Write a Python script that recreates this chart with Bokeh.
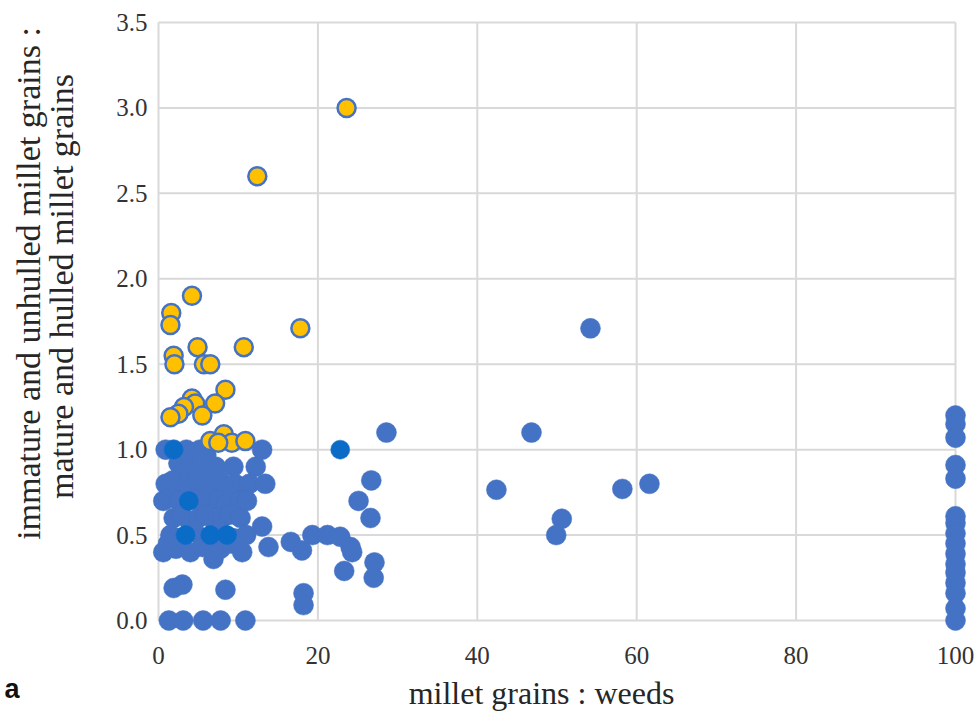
from bokeh.plotting import figure
from bokeh.models import Range1d, FixedTicker, NumeralTickFormatter, Label
from bokeh.embed import file_html
from bokeh.resources import INLINE

# ---------------- data ----------------
x_ticks = [0, 20, 40, 60, 80, 100]
y_ticks = [0.0, 0.5, 1.0, 1.5, 2.0, 2.5, 3.0, 3.5]

# light blue series
blue_x = [
    0.9, 1.9, 2.6, 3.5, 4.3, 5.2, 6.0, 13.0,
    2.5, 3.3, 4.5, 5.5, 6.3, 7.2, 9.4, 12.2,
    0.9, 1.8, 2.8, 3.7, 4.8, 5.8, 6.8, 7.7, 8.6, 9.6, 10.5, 11.4, 13.4,
    0.6, 1.6, 2.6, 4.6, 5.5, 6.5, 7.5, 8.5, 9.4, 10.2, 11.1,
    1.9, 2.9, 3.9, 5.0, 6.0, 7.0, 8.0, 9.0, 10.3,
    1.5, 2.5, 4.5, 5.5, 7.5, 9.6, 11.0, 13.0,
    0.6, 1.2, 2.2, 4.0, 5.5, 6.9, 7.8, 9.2, 10.5, 13.8,
    1.3, 3.1, 5.6, 7.8, 10.9,
    1.9, 3.0, 8.4,
    16.6, 18.0, 19.3, 21.2, 22.8, 24.1, 24.3, 23.3, 27.1, 27.0, 18.2, 18.2,
    28.6, 26.7, 25.1, 26.6,
    54.2, 46.8, 42.4, 58.2, 61.6, 50.6, 49.9,
    100, 100, 100, 100, 100, 100, 100, 100, 100, 100, 100, 100, 100, 100, 100, 100,
]
blue_y = [
    1.0, 1.0, 0.98, 1.0, 0.98, 1.0, 0.97, 1.0,
    0.92, 0.88, 0.9, 0.92, 0.88, 0.9, 0.9, 0.9,
    0.8, 0.82, 0.78, 0.8, 0.82, 0.78, 0.8, 0.82, 0.78, 0.8, 0.78, 0.8, 0.8,
    0.7, 0.72, 0.7, 0.71, 0.68, 0.72, 0.7, 0.68, 0.72, 0.7, 0.7,
    0.6, 0.62, 0.58, 0.6, 0.62, 0.58, 0.6, 0.62, 0.6,
    0.5, 0.48, 0.52, 0.48, 0.52, 0.48, 0.5, 0.55,
    0.4, 0.45, 0.42, 0.4, 0.43, 0.36, 0.42, 0.45, 0.4, 0.43,
    0.0, 0.0, 0.0, 0.0, 0.0,
    0.19, 0.21, 0.18,
    0.46, 0.41, 0.50, 0.50, 0.49, 0.43, 0.40, 0.29, 0.34, 0.25, 0.16, 0.09,
    1.10, 0.82, 0.70, 0.60,
    1.71, 1.10, 0.765, 0.77, 0.80, 0.595, 0.50,
    1.20, 1.15, 1.07, 0.91, 0.83, 0.61, 0.57, 0.51, 0.45, 0.39, 0.33, 0.28, 0.22, 0.16, 0.07, 0.0,
]

# darker blue series
dark_x = [1.9, 3.8, 3.4, 6.5, 8.6, 22.8]
dark_y = [1.0, 0.7, 0.5, 0.5, 0.5, 1.0]

# yellow series
yellow_x = [23.6, 12.4, 4.2, 1.6, 1.5, 4.9, 10.7, 17.8, 1.9, 2.0, 5.7, 6.5, 8.4,
            4.2, 4.6, 3.2, 7.1, 2.5, 1.5, 5.5, 6.5, 8.2, 9.2, 10.9, 7.5]
yellow_y = [3.0, 2.6, 1.9, 1.8, 1.73, 1.6, 1.6, 1.71, 1.55, 1.5, 1.5, 1.5, 1.35,
            1.3, 1.27, 1.25, 1.27, 1.21, 1.19, 1.2, 1.05, 1.09, 1.04, 1.05, 1.04]

x_title = "millet grains : weeds"
y_title_1 = "immature and unhulled millet grains :"
y_title_2 = "mature and hulled millet grains"
panel_tag = "a"

# ---------------- layout ----------------
W, H = 978, 714
# pixel placement of the data box inside the canvas
PX_X0, PX_X1 = 158, 955      # x = 0 .. 100
PX_Y0, PX_Y1 = 620, 22       # y = 0 .. 3.5
sx = (PX_X1 - PX_X0) / (x_ticks[-1] - x_ticks[0])
sy = (PX_Y0 - PX_Y1) / (y_ticks[-1] - y_ticks[0])
x_lo = x_ticks[0] - PX_X0 / sx
x_hi = x_ticks[-1] + (W - PX_X1) / sx
y_lo = y_ticks[0] - (H - PX_Y0) / sy
y_hi = y_ticks[-1] + PX_Y1 / sy

BLUE = "#4472C4"
DARK = "#0B6CC8"
YELLOW = "#FFC000"
GRID = "#D9D9D9"
SERIF = "Liberation Serif"

p = figure(width=W, height=H, output_backend="svg", toolbar_location=None,
           x_range=Range1d(x_lo, x_hi), y_range=Range1d(y_lo, y_hi),
           min_border_left=0, min_border_right=0, min_border_top=0, min_border_bottom=0)
p.outline_line_color = None
p.background_fill_color = "white"
p.border_fill_color = "white"
p.xgrid.visible = False
p.ygrid.visible = False

# gridlines drawn over the data extent only
p.segment(x0=x_ticks, x1=x_ticks, y0=[y_ticks[0]] * len(x_ticks), y1=[y_ticks[-1]] * len(x_ticks),
          line_color=GRID, line_width=2)
p.segment(x0=[x_ticks[0]] * len(y_ticks), x1=[x_ticks[-1]] * len(y_ticks), y0=y_ticks, y1=y_ticks,
          line_color=GRID, line_width=2)

p.scatter(x=blue_x, y=blue_y, size=20, fill_color=BLUE, line_color=BLUE, line_width=0.5)
p.scatter(x=dark_x, y=dark_y, size=19, fill_color=DARK, line_color=DARK, line_width=0.5)
p.scatter(x=yellow_x, y=yellow_y, size=18, fill_color=YELLOW, line_color=BLUE, line_width=2.5)

for ax in (p.xaxis[0], p.yaxis[0]):
    ax.fixed_location = 0
    ax.axis_line_color = None
    ax.major_tick_line_color = None
    ax.minor_tick_line_color = None
    ax.major_tick_out = 0
    ax.major_tick_in = 0
    ax.minor_tick_out = 0
    ax.major_label_text_font = SERIF
    ax.major_label_text_font_size = "25px"
    ax.major_label_text_color = "#333333"

p.xaxis.ticker = FixedTicker(ticks=x_ticks)
p.yaxis.ticker = FixedTicker(ticks=y_ticks)
p.yaxis.formatter = NumeralTickFormatter(format="0.0")
p.xaxis.major_label_standoff = 26
p.yaxis.major_label_standoff = 11

SHIFT = 9  # label placement correction
p.add_layout(Label(x=541, y=H - 701 + SHIFT, x_units="screen", y_units="screen", text=x_title,
                   text_font=SERIF, text_font_size="32px", text_color="#262626",
                   text_align="center", text_baseline="alphabetic"))
p.add_layout(Label(x=28, y=H - 292 + SHIFT, x_units="screen", y_units="screen", text=y_title_1, angle=1.5708,
                   text_font=SERIF, text_font_size="34px", text_color="#262626",
                   text_align="center", text_baseline="middle"))
p.add_layout(Label(x=61, y=H - 295 + SHIFT, x_units="screen", y_units="screen", text=y_title_2, angle=1.5708,
                   text_font=SERIF, text_font_size="34px", text_color="#262626",
                   text_align="center", text_baseline="middle"))
p.add_layout(Label(x=4, y=H - 697 + SHIFT, x_units="screen", y_units="screen", text=panel_tag,
                   text_font="Liberation Sans", text_font_style="bold", text_font_size="27px",
                   text_color="#111111", text_align="left", text_baseline="alphabetic"))

open("out.html", "w").write(file_html(p, INLINE))
